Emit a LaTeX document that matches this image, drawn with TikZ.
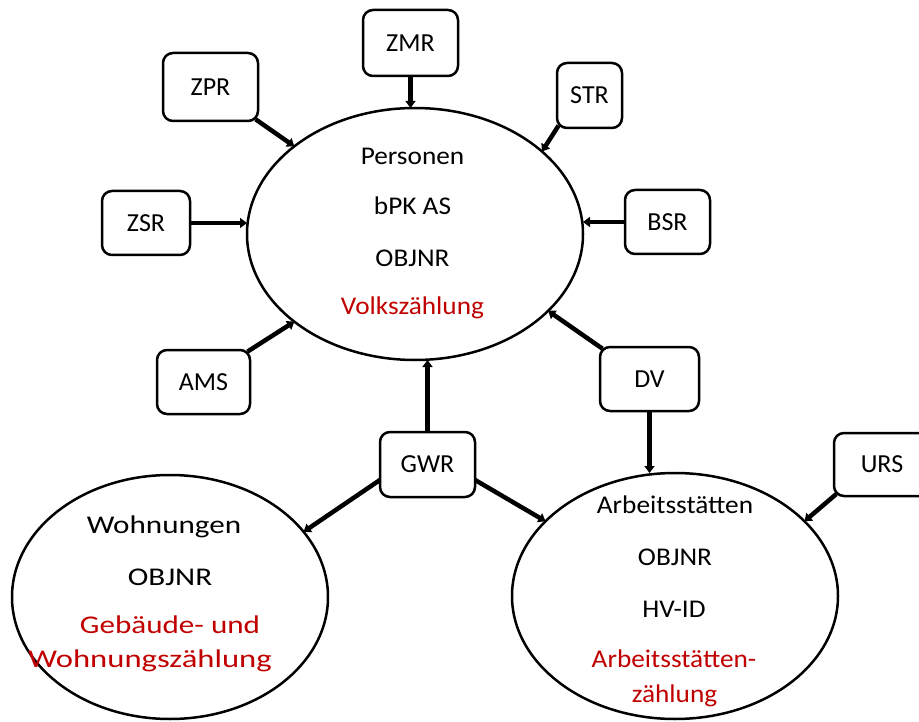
\documentclass[tikz,border=0pt]{standalone}
\usepackage{fontspec}
\usepackage{graphicx}
\setmainfont{Carlito}
\usetikzlibrary{shapes.geometric,arrows.meta}
\definecolor{dred}{RGB}{192,0,0}
\newcommand{\sxx}[2]{\scalebox{#1}[1]{#2}}
\begin{document}
\begin{tikzpicture}[x=1pt,y=-1pt,
  box/.style={draw, line width=2.5pt, rounded corners=10pt, inner sep=0pt, outer sep=0pt, font=\fontsize{26}{30}\selectfont},
  ell/.style={ellipse, draw, line width=2.5pt, inner sep=0pt, outer sep=0pt},
  lbl/.style={anchor=base, inner sep=0pt, font=\fontsize{25.5}{30}\selectfont},
  redtxt/.style={text=dred},
  arr/.style={line width=4.5pt, -{Triangle[length=7pt,width=10pt]}},
  diag/.style={shorten <=-3pt}
]
\useasboundingbox (0,0) rectangle (919,722);
\clip (0,0) rectangle (919,722);

% ellipses
\node[ell, minimum width=336pt, minimum height=252pt] (P) at (415,234) {};
\node[ell, minimum width=316pt, minimum height=244pt] (W) at (170,597) {};
\node[ell, minimum width=326pt, minimum height=246pt] (A) at (675,596) {};

% texts in Personen
\node[lbl] (p1) at (412.5,165) {\sxx{1.07}{Personen}};
\node[lbl] (p2) at (412.5,215) {\sxx{1.07}{bPK AS}};
\node[lbl] (p3) at (412.5,267) {\sxx{1.07}{OBJNR}};
\node[lbl,redtxt] (p4) at (412.5,315) {\sxx{1.07}{Volkszählung}};

% texts in Wohnungen
\node[lbl] (w1) at (164,533) {\sxx{1.22}{Wohnungen}};
\node[lbl] (w2) at (170,585) {\sxx{1.22}{OBJNR}};
\node[lbl,redtxt] (w3) at (170,633) {\sxx{1.22}{Gebäude- und}};
\node[lbl,redtxt] (w4) at (150,667) {\sxx{1.28}{Wohnungszählung}};

% texts in Arbeitsstätten
\node[lbl] (a1) at (675,513) {\sxx{1.07}{Arbeitsstätten}};
\node[lbl] (a2) at (675,565) {\sxx{1.07}{OBJNR}};
\node[lbl] (a3) at (674,617) {\sxx{1.07}{HV-ID}};
\node[lbl,redtxt] (a4) at (674,667) {\sxx{1.07}{Arbeitsstätten-}};
\node[lbl,redtxt] (a5) at (674.5,702) {\sxx{1.07}{zählung}};

% boxes
\node[box, minimum width=95pt, minimum height=68pt] (ZPR) at (210.5,87) {ZPR};
\node[box, minimum width=95pt, minimum height=66pt] (ZMR) at (410.5,43) {ZMR};
\node[box, minimum width=65pt, minimum height=65pt] (STR) at (589.5,95.5) {STR};
\node[box, minimum width=88pt, minimum height=64pt] (ZSR) at (146,223) {ZSR};
\node[box, minimum width=85pt, minimum height=64pt] (BSR) at (667.5,222) {BSR};
\node[box, minimum width=93pt, minimum height=64pt] (AMS) at (203.5,382) {AMS};
\node[box, minimum width=99pt, minimum height=64pt] (DV) at (649.5,379) {DV};
\node[box, minimum width=95pt, minimum height=65pt] (GWR) at (427.5,464.5) {GWR};
\node[box, minimum width=96pt, minimum height=63pt] (URS) at (882,464.5) {URS};

% connectors
\draw[arr] (ZMR.south) -- (ZMR.south |- P.north);
\draw[arr,diag] (ZPR.south east) -- (P.144);
\draw[arr,diag] (STR.south west) -- (P.33);
\draw[arr] (ZSR.east) -- (ZSR.east -| P.west);
\draw[arr] (BSR.west) -- (BSR.west -| P.east);
\draw[arr,diag] (AMS.north east) -- (P.216);
\draw[arr] (GWR.north) -- (GWR.north |- P.south);
\draw[arr,diag] (DV.north west) -- (P.330);
\draw[arr] (DV.south) -- (DV.south |- A.north);
\draw[arr] (GWR.198) -- (W.26);
\draw[arr] (GWR.-18) -- (A.150);
\draw[arr,diag] (URS.south west) -- (A.30);
\end{tikzpicture}
\end{document}
